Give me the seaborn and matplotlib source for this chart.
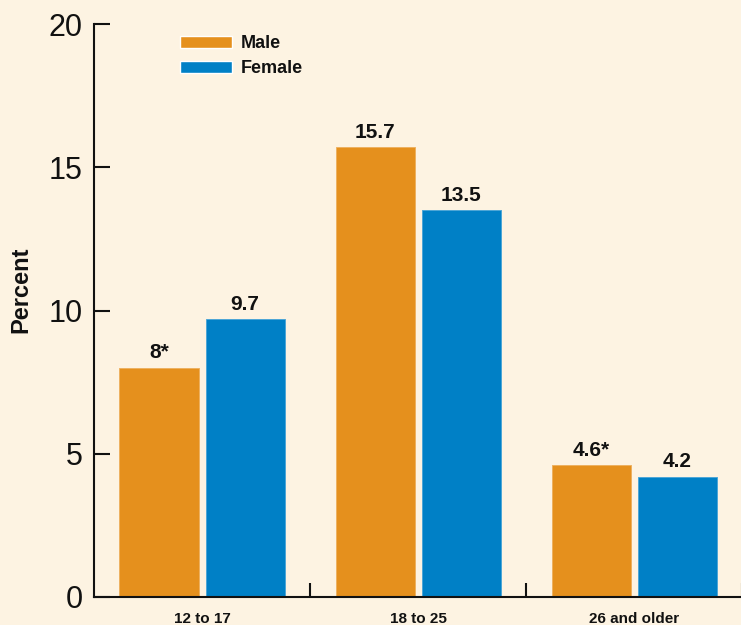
import matplotlib
matplotlib.use("Agg")
import matplotlib.pyplot as plt
import seaborn as sns
import pandas as pd

categories = ["12 to 17", "18 to 25", "26 and older"]
series = ["Male", "Female"]
male_values = [8.0, 15.7, 4.6]
female_values = [9.7, 13.5, 4.2]
male_labels = ["8*", "15.7", "4.6*"]
female_labels = ["9.7", "13.5", "4.2"]
yticks = [0, 5, 10, 15, 20]

BG = "#FDF3E2"
COLORS = {"Male": "#E5901D", "Female": "#0080C6"}
INK = "#111111"

sns.set_theme(style="white")
plt.rcParams["font.family"] = ["Liberation Sans", "DejaVu Sans"]

df = pd.DataFrame({
    "Age": categories * 2,
    "Sex": ["Male"] * 3 + ["Female"] * 3,
    "Percent": male_values + female_values,
})

fig = plt.figure(figsize=(7.41, 6.25), dpi=100, facecolor=BG)
ax = fig.add_axes([94 / 741, 1 - 597 / 625, 1 - 94 / 741 + 0.002, (597 - 24) / 625])
ax.set_facecolor(BG)

sns.barplot(data=df, x="Age", y="Percent", hue="Sex", order=categories,
            hue_order=series, palette=COLORS, width=0.796, gap=0.08,
            saturation=1, ax=ax, errorbar=None)

for cont, labs in zip(ax.containers, [male_labels, female_labels]):
    for p in cont.patches:
        fc = p.get_facecolor()
        light = tuple(min(1, c + (1 - c) * 0.3) for c in fc[:3])
        p.set_edgecolor(light)
        p.set_linewidth(0.7)
    ax.bar_label(cont, labels=labs, padding=4, fontsize=15, fontweight="bold",
                 color=INK)

ax.set_xlim(-0.5, 2.5)
ax.set_ylim(0, 20)
ax.set_yticks(yticks)
ax.set_yticklabels([str(t) for t in yticks], fontsize=22, color=INK)
ax.tick_params(axis="y", left=True, direction="in", length=11.5, width=1.5,
               color=INK, pad=8)
ax.set_xticks([0, 1, 2])
ax.set_xticklabels(categories, fontsize=11, fontweight="bold", color=INK)
ax.tick_params(axis="x", which="major", length=0, pad=11)
ax.set_xticks([0.5, 1.5, 2.5], minor=True)
ax.tick_params(axis="x", which="minor", direction="in", length=10, width=1.5,
               color=INK, bottom=True)
ax.set_xlabel("")
ax.set_ylabel("Percent", fontsize=17, fontweight="bold", color=INK, va="center")
ax.yaxis.set_label_coords((21 - 94) / 647, (597 - 290) / 573)

for s in ["top", "right"]:
    ax.spines[s].set_visible(False)
for s in ["left", "bottom"]:
    ax.spines[s].set_color(INK)
    ax.spines[s].set_linewidth(1.5)

handles, labels = ax.get_legend_handles_labels()
leg = ax.legend(handles, labels, loc="upper left",
                bbox_to_anchor=(180 / 741, 1 - 35 / 625), bbox_transform=fig.transFigure,
                frameon=False, borderpad=0, borderaxespad=0, handlelength=2.9,
                handleheight=0.67, handletextpad=0.45, labelspacing=0.45,
                prop={"size": 13, "weight": "bold"})
for t in leg.get_texts():
    t.set_color(INK)

fig.savefig("out.png", dpi=100, facecolor=BG)
